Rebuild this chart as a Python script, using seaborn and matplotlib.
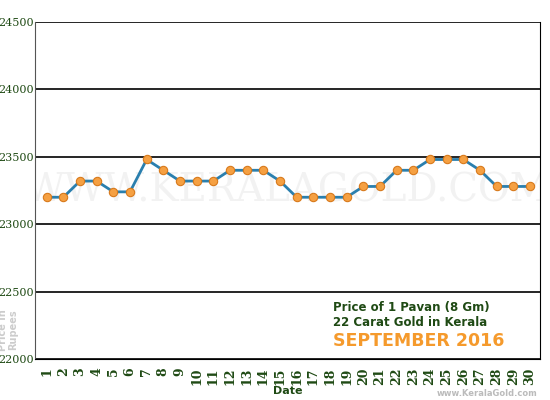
import matplotlib
matplotlib.use('Agg')
import matplotlib.pyplot as plt
import seaborn as sns
import pandas as pd

days = list(range(1, 31))
prices = [23200, 23200, 23320, 23320, 23240, 23240, 23480, 23400, 23320, 23320,
          23320, 23400, 23400, 23400, 23320, 23200, 23200, 23200, 23200, 23280,
          23280, 23400, 23400, 23480, 23480, 23480, 23400, 23280, 23280, 23280]
yticks = [22000, 22500, 23000, 23500, 24000, 24500]

df = pd.DataFrame({'day': days, 'price': prices})
green = '#1f4a14'

sns.set_style('white')
fig = plt.figure(figsize=(5.5, 4), dpi=100)
ax = fig.add_axes([35 / 550, 41 / 400, 505 / 550, 337 / 400])

for y in yticks:
    ax.axhline(y, color='black', lw=1.2, zorder=1)
sns.lineplot(df, x='day', y='price', ax=ax, color='#2a7fae', lw=2, zorder=3,
             marker='o', markersize=6, markerfacecolor='#f5a042',
             markeredgecolor='#d87a1c', markeredgewidth=0.8)
ax.text(0.5, 0.5, 'WWW.KERALAGOLD.COM', transform=ax.transAxes, ha='center', va='center',
        fontsize=28, family='serif', color='#f2f2f2', zorder=0, clip_on=True)

ax.set_xlim(0.3, 30.6)
ax.set_ylim(22000, 24500)
ax.set_xticks(days)
ax.set_xticklabels([str(d) for d in days], rotation=90, fontsize=9,
                   family='serif', fontweight='bold', color=green)
ax.set_yticks(yticks)
ax.set_yticklabels([str(y) for y in yticks], fontsize=8, family='serif', color=green)
ax.tick_params(axis='x', length=4, width=1.5, color='black', pad=2, direction='out')
ax.tick_params(axis='y', length=0, pad=1)
ax.set_xlabel('Date', fontsize=8, fontweight='bold', color=green, labelpad=1)
ax.set_ylabel('')
ax.spines['top'].set_visible(False)
ax.spines['left'].set_color('#555555')
ax.spines['right'].set_color('black')
ax.spines['bottom'].set_color('black')

fig.text(8 / 550, (400 - 330) / 400, 'Price in\nRupees', rotation=90, ha='center', va='center',
         fontsize=7, fontweight='bold', color='#cccccc', linespacing=1.0)
fig.text(333 / 550, (400 - 315) / 400, 'Price of 1 Pavan (8 Gm)\n22 Carat Gold in Kerala',
         ha='left', va='center', fontsize=8.5, fontweight='bold', color=green, linespacing=1.1)
fig.text(333 / 550, 59 / 400, 'SEPTEMBER 2016', ha='left', va='center',
         fontsize=12.5, fontweight='bold', color='#f59a2c')
fig.text(537 / 550, 7 / 400, 'www.KeralaGold.com', ha='right', va='center',
         fontsize=6, fontweight='bold', color='#bbbbbb')

fig.savefig('out.png', dpi=100)
